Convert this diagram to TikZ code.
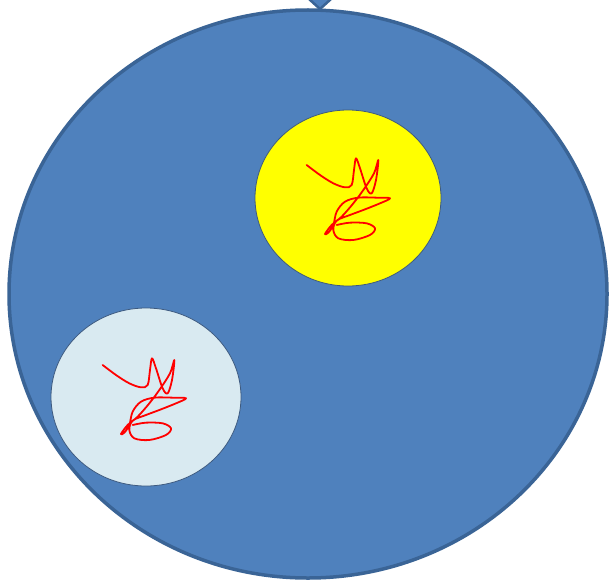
\documentclass[tikz,border=0pt]{standalone}
\definecolor{bigfill}{HTML}{4F81BD}
\definecolor{bigline}{HTML}{3A6496}
\definecolor{ylw}{HTML}{FFFF00}
\definecolor{paleblue}{HTML}{D9EAF1}
\definecolor{thinline}{HTML}{3D5A80}
\tikzset{
  bigdisc/.style={draw=bigline, fill=bigfill, line width=3.5pt},
  smalldisc/.style={draw=thinline, line width=0.8pt},
  scrib/.style={draw=red, line width=1.8pt, line cap=round, line join=round},
  pics/scribble/.style={code={
    \draw[scrib, x=0.3333pt, y=-0.3333pt] plot[smooth, tension=0.55] coordinates {
      (20,45) (60,75) (100,100) (135,112) (155,105) (162,60) (168,25) (180,55)
      (200,115) (215,130) (228,90) (235,30) (222,70) (190,120) (160,160)
      (125,200) (95,225) (75,252) (85,248) (100,225) (110,185) (135,155)
      (175,143) (230,143) (270,145) (240,160) (190,180) (150,195) (110,212)
      (100,240) (115,265) (160,270) (210,255) (225,235) (200,220) (150,218) (110,225)};
  }}
}
\begin{document}
\begin{tikzpicture}[x=1pt, y=-1pt]
\useasboundingbox (0,0) rectangle (609,583);
\fill[white] (0,0) rectangle (609,583);
% top marker
\draw[bigline, fill=bigfill, line width=2.5pt] (320,-12) coordinate (mk) -- (331,-1) -- (320,9) -- (309,-1) -- cycle;
% big disc
\draw[bigdisc] (308,294) ellipse [x radius=299, y radius=284];
\node[coordinate] (big) at (308,294) {};
% inner discs
\draw[smalldisc, fill=ylw] (348,198) ellipse [x radius=93, y radius=88];
\node[coordinate] (yel) at (348,198) {};
\draw[smalldisc, fill=paleblue] (146,397) ellipse [x radius=95, y radius=89];
\node[coordinate] (pb) at (146,397) {};
% scribbles
\pic at (300,150) {scribble};
\pic at (96,350) {scribble};
\end{tikzpicture}
\end{document}
